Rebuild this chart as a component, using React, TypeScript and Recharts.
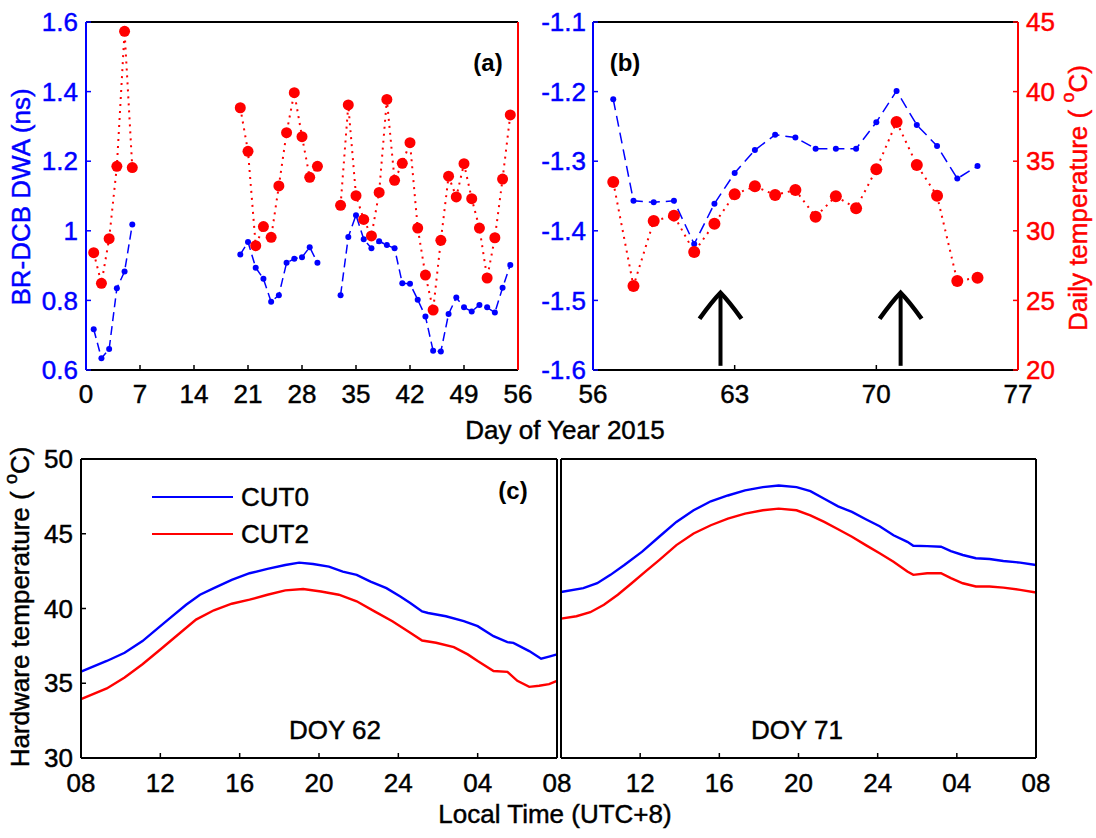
import React from 'react';
import { LineChart, Line, XAxis, YAxis, ReferenceLine, ReferenceDot, Legend } from 'recharts';

const FONT = '"Liberation Sans", Arial, Helvetica, sans-serif';
const BLUE = '#0000ff';
const RED = '#ff0000';
const BLACK = '#000000';
const W = 1096;
const H = 838;

// ---------- Panel (a) ----------
const daysA = [1, 2, 3, 4, 5, 6, 20, 21, 22, 23, 24, 25, 26, 27, 28, 29, 30, 33, 34, 35, 36, 37, 38, 39, 40, 41, 42, 43, 44, 45, 46, 47, 48, 49, 50, 51, 52, 53, 54, 55];
const dwaA = [0.717, 0.634, 0.66, 0.835, 0.883, 1.018, 0.932, 0.968, 0.894, 0.862, 0.796, 0.815, 0.908, 0.92, 0.924, 0.953, 0.908, 0.815, 0.982, 1.045, 0.976, 0.95, 0.97, 0.959, 0.95, 0.849, 0.848, 0.802, 0.754, 0.655, 0.653, 0.761, 0.808, 0.78, 0.768, 0.787, 0.78, 0.765, 0.836, 0.902];
const tempA = [28.43, 26.23, 29.43, 34.63, 44.33, 34.54, 38.84, 35.71, 28.93, 30.3, 29.53, 33.22, 37.05, 39.92, 36.76, 33.84, 34.63, 31.83, 39.04, 32.52, 30.82, 29.63, 32.76, 39.44, 33.63, 34.85, 36.33, 30.2, 26.82, 24.31, 29.32, 33.92, 32.43, 34.82, 32.31, 30.2, 26.61, 29.5, 33.72, 38.32];
const dayTicksA = [0, 7, 14, 21, 28, 35, 42, 49, 56];
const dwaTicksA = [0.6, 0.8, 1.0, 1.2, 1.4, 1.6];
const tempTicks = [20, 25, 30, 35, 40, 45];

// ---------- Panel (b) ----------
const daysB = [57, 58, 59, 60, 61, 62, 63, 64, 65, 66, 67, 68, 69, 70, 71, 72, 73, 74, 75];
const dwaB = [-1.211, -1.357, -1.359, -1.357, -1.419, -1.361, -1.317, -1.284, -1.262, -1.266, -1.282, -1.282, -1.282, -1.244, -1.199, -1.248, -1.278, -1.325, -1.307];
const tempB = [33.51, 26.03, 30.7, 31.09, 28.48, 30.51, 32.62, 33.2, 32.57, 32.93, 31.01, 32.48, 31.62, 34.42, 37.82, 34.73, 32.52, 26.39, 26.63];
const dayTicksB = [56, 63, 70, 77];
const dwaTicksB = [-1.6, -1.5, -1.4, -1.3, -1.2, -1.1];
const arrowDays = [62.3, 71.2];
const arrowBase = -1.594;
const arrowTip = -1.489;

// ---------- Panel (c) ----------
const hourTicks = [0, 4, 8, 12, 16, 20, 24];
const hourLabels = ['08', '12', '16', '20', '24', '04', '08'];
const hwTicks = [30, 35, 40, 45, 50];

const hrs62Cut0 = [0, 1.3, 2.2, 3.1, 4.0, 4.5, 5.3, 6.0, 6.7, 7.6, 8.5, 9.4, 10.3, 11.0, 11.7, 12.5, 13.2, 13.9, 14.6, 15.4, 16.1, 16.6, 17.2, 17.5, 18.4, 19.3, 20.0, 20.8, 21.5, 21.8, 22.6, 23.2, 23.6, 24];
const cut0Doy62 = [35.78, 36.49, 37.04, 37.82, 38.82, 39.37, 40.25, 40.92, 41.36, 41.92, 42.36, 42.65, 42.91, 43.07, 42.98, 42.8, 42.47, 42.25, 41.8, 41.36, 40.8, 40.37, 39.8, 39.7, 39.48, 39.15, 38.82, 38.15, 37.75, 37.7, 37.15, 36.64, 36.78, 36.93];
const hrs62Cut2 = [0, 1.3, 2.2, 3.1, 4.0, 4.9, 5.8, 6.7, 7.6, 8.5, 9.4, 10.3, 11.2, 12.1, 13.0, 13.9, 14.8, 15.7, 16.6, 17.2, 17.9, 18.8, 19.5, 20.0, 20.8, 21.5, 22.0, 22.6, 23.1, 23.6, 24];
const cut2Doy62 = [33.94, 34.65, 35.38, 36.27, 37.26, 38.26, 39.26, 39.88, 40.32, 40.59, 40.92, 41.21, 41.3, 41.14, 40.92, 40.48, 39.81, 39.15, 38.37, 37.86, 37.71, 37.42, 36.93, 36.49, 35.82, 35.76, 35.16, 34.76, 34.83, 34.94, 35.16];

const hrs71Cut0 = [0, 1.13, 1.83, 2.5, 3.2, 4.1, 4.96, 5.83, 6.7, 7.57, 8.43, 9.3, 10.2, 11.0, 11.9, 12.6, 13.3, 14.0, 14.7, 15.4, 16.1, 16.8, 17.5, 17.8, 18.5, 19.2, 19.7, 20.3, 20.96, 21.65, 22.35, 23.2, 24];
const cut0Doy71 = [41.1, 41.36, 41.69, 42.25, 42.91, 43.8, 44.8, 45.79, 46.57, 47.17, 47.56, 47.9, 48.12, 48.23, 48.12, 47.85, 47.34, 46.83, 46.46, 45.97, 45.5, 44.9, 44.46, 44.2, 44.17, 44.13, 43.84, 43.58, 43.36, 43.31, 43.18, 43.07, 42.91];
const hrs71Cut2 = [0, 0.78, 1.48, 2.17, 2.87, 3.57, 4.26, 4.96, 5.83, 6.7, 7.57, 8.43, 9.3, 10.2, 11.0, 11.9, 12.6, 13.3, 14.0, 14.7, 15.4, 16.1, 16.8, 17.5, 17.8, 18.5, 19.2, 19.7, 20.3, 20.96, 21.65, 22.35, 23.2, 24];
const cut2Doy71 = [39.32, 39.48, 39.75, 40.25, 40.92, 41.69, 42.47, 43.24, 44.24, 45.02, 45.57, 46.01, 46.35, 46.57, 46.68, 46.57, 46.23, 45.79, 45.3, 44.8, 44.24, 43.69, 43.13, 42.47, 42.25, 42.36, 42.36, 42.03, 41.69, 41.47, 41.47, 41.4, 41.25, 41.07];

// ---------- data builders ----------
function buildDaily(days: number[], dwa: number[], temp: number[]) {
  const out: { day: number; dwa: number | null; temp: number | null }[] = [];
  days.forEach((d, i) => {
    if (i > 0 && d - days[i - 1] > 1) out.push({ day: (d + days[i - 1]) / 2, dwa: null, temp: null });
    out.push({ day: d, dwa: dwa[i], temp: temp[i] });
  });
  return out;
}
function buildCurve(hrs: number[], vals: number[]) {
  return hrs.map((h, i) => ({ h, v: vals[i] }));
}

const dataA = buildDaily(daysA, dwaA, tempA);
const dataB = buildDaily(daysB, dwaB, tempB);
const c62a = buildCurve(hrs62Cut0, cut0Doy62);
const c62b = buildCurve(hrs62Cut2, cut2Doy62);
const c71a = buildCurve(hrs71Cut0, cut0Doy71);
const c71b = buildCurve(hrs71Cut2, cut2Doy71);

const TS = 26;
const HEAVY = 0.45;
const tickStyle = (fill: string) => ({ fill, stroke: fill, strokeWidth: HEAVY, fontSize: TS, fontFamily: FONT });
const axLine = (c: string) => ({ stroke: c, strokeWidth: 2 });
const tkLine = (c: string) => ({ stroke: c, strokeWidth: 1.5 });
const fmtNum = (v: number) => String(Math.round(v * 10) / 10);

const Chevron = (props: any) => {
  const { cx, cy } = props;
  return (
    <path d={`M${cx - 21},${cy + 26} Q${cx - 8},${cy + 8} ${cx},${cy} Q${cx + 8},${cy + 8} ${cx + 21},${cy + 26}`} stroke={BLACK} strokeWidth={4.5} fill="none" />
  );
};

const abs: React.CSSProperties = { position: 'absolute', left: 0, top: 0 };

function PanelA() {
  return (
    <div style={abs}>
      <LineChart width={W} height={H} data={dataA} margin={{ top: 21, left: 26, right: 568, bottom: 438 }}>
        <XAxis xAxisId="b" dataKey="day" type="number" domain={[0, 56]} ticks={dayTicksA} interval={0} height={30}
          tick={tickStyle(BLACK)} tickSize={-5} tickMargin={20} axisLine={axLine(BLACK)} tickLine={tkLine(BLACK)} />
        <XAxis xAxisId="t" orientation="top" dataKey="day" type="number" domain={[0, 56]} ticks={dayTicksA} interval={0} height={1}
          tick={false} tickSize={-5} axisLine={axLine(BLACK)} tickLine={tkLine(BLACK)} />
        <YAxis yAxisId="l" type="number" domain={[0.6, 1.6]} ticks={dwaTicksA} interval={0} width={60} tickFormatter={fmtNum}
          tick={tickStyle(BLUE)} tickSize={-5} tickMargin={13} axisLine={axLine(BLUE)} tickLine={tkLine(BLUE)} />
        <YAxis yAxisId="r" orientation="right" type="number" domain={[20, 45]} ticks={tempTicks} interval={0} width={10}
          tick={false} tickSize={-5} axisLine={axLine(RED)} tickLine={tkLine(RED)} />
        <Line xAxisId="b" yAxisId="l" dataKey="dwa" stroke={BLUE} strokeWidth={1.5} strokeDasharray="9 5"
          dot={{ r: 3, fill: BLUE, stroke: BLUE, strokeWidth: 0 }} isAnimationActive={false} connectNulls={false} />
        <Line xAxisId="b" yAxisId="r" dataKey="temp" stroke={RED} strokeWidth={2} strokeDasharray="2 5"
          dot={{ r: 5.5, fill: RED, stroke: RED, strokeWidth: 0 }} isAnimationActive={false} connectNulls={false} />
      </LineChart>
    </div>
  );
}

function PanelB() {
  return (
    <div style={abs}>
      <LineChart width={W} height={H} data={dataB} margin={{ top: 21, left: 533, right: 8, bottom: 438 }}>
        <XAxis xAxisId="b" dataKey="day" type="number" domain={[56, 77]} ticks={dayTicksB} interval={0} height={30}
          tick={tickStyle(BLACK)} tickSize={-5} tickMargin={20} axisLine={axLine(BLACK)} tickLine={tkLine(BLACK)} />
        <XAxis xAxisId="t" orientation="top" dataKey="day" type="number" domain={[56, 77]} ticks={dayTicksB} interval={0} height={1}
          tick={false} tickSize={-5} axisLine={axLine(BLACK)} tickLine={tkLine(BLACK)} />
        <YAxis yAxisId="l" type="number" domain={[-1.6, -1.1]} ticks={dwaTicksB} interval={0} width={60} tickFormatter={fmtNum}
          tick={tickStyle(BLUE)} tickSize={-5} tickMargin={12} axisLine={axLine(BLUE)} tickLine={tkLine(BLUE)} />
        <YAxis yAxisId="r" orientation="right" type="number" domain={[20, 45]} ticks={tempTicks} interval={0} width={70}
          tick={tickStyle(RED)} tickSize={-5} tickMargin={13} axisLine={axLine(RED)} tickLine={tkLine(RED)} />
        <Line xAxisId="b" yAxisId="l" dataKey="dwa" stroke={BLUE} strokeWidth={1.5} strokeDasharray="11 6"
          dot={{ r: 3, fill: BLUE, stroke: BLUE, strokeWidth: 0 }} isAnimationActive={false} />
        <Line xAxisId="b" yAxisId="r" dataKey="temp" stroke={RED} strokeWidth={2} strokeDasharray="2 5"
          dot={{ r: 6, fill: RED, stroke: RED, strokeWidth: 0 }} isAnimationActive={false} />
        {arrowDays.map((d) => (
          <ReferenceLine key={'s' + d} xAxisId="b" yAxisId="l" segment={[{ x: d, y: arrowBase }, { x: d, y: arrowTip }]}
            stroke={BLACK} strokeWidth={4} />
        ))}
        {arrowDays.map((d) => (
          <ReferenceDot key={'h' + d} xAxisId="b" yAxisId="l" x={d} y={arrowTip} shape={Chevron} />
        ))}
      </LineChart>
    </div>
  );
}

const LegendContent = () => (
  <svg width={200} height={80} style={{ overflow: 'visible' }}>
    <line x1={12} x2={93} y1={22} y2={22} stroke={BLUE} strokeWidth={2} />
    <text x={101} y={22} dominantBaseline="central" fontFamily={FONT} fontSize={TS} fill={BLACK} stroke={BLACK} strokeWidth={HEAVY}>CUT0</text>
    <line x1={12} x2={93} y1={59} y2={59} stroke={RED} strokeWidth={2} />
    <text x={101} y={59} dominantBaseline="central" fontFamily={FONT} fontSize={TS} fill={BLACK} stroke={BLACK} strokeWidth={HEAVY}>CUT2</text>
  </svg>
);

function PanelC({ left, cut0, cut2 }: { left: boolean; cut0: any[]; cut2: any[] }) {
  const margin = left
    ? { top: 458, left: 21, right: 538, bottom: 50 }
    : { top: 458, left: 560, right: 10, bottom: 50 };
  const fmtHour = (v: number) => {
    const i = hourTicks.indexOf(v);
    if (!left && i === 0) return '';
    return i >= 0 ? hourLabels[i] : '';
  };
  return (
    <div style={abs}>
      <LineChart width={W} height={H} margin={margin}>
        <XAxis xAxisId="b" dataKey="h" type="number" domain={[0, 24]} ticks={hourTicks} interval={0} height={30}
          tickFormatter={fmtHour} tick={tickStyle(BLACK)} tickSize={-5} tickMargin={21} axisLine={axLine(BLACK)} tickLine={tkLine(BLACK)} />
        <XAxis xAxisId="t" orientation="top" dataKey="h" type="number" domain={[0, 24]} ticks={hourTicks} interval={0} height={1}
          tick={false} tickSize={-5} axisLine={axLine(BLACK)} tickLine={tkLine(BLACK)} />
        <YAxis yAxisId="l" type="number" domain={[30, 50]} ticks={hwTicks} interval={0} width={left ? 60 : 1}
          tick={left ? tickStyle(BLACK) : false} tickSize={-5} tickMargin={13} axisLine={axLine(BLACK)} tickLine={tkLine(BLACK)} />
        <YAxis yAxisId="r" orientation="right" type="number" domain={[30, 50]} ticks={hwTicks} interval={0} width={left ? 1 : 50}
          tick={left ? false : tickStyle(BLACK)} tickSize={-5} tickMargin={14} axisLine={axLine(BLACK)} tickLine={tkLine(BLACK)} />
        <Line xAxisId="b" yAxisId="l" data={cut0} dataKey="v" name="CUT0" stroke={BLUE} strokeWidth={2.4} dot={false} isAnimationActive={false} />
        <Line xAxisId="b" yAxisId="l" data={cut2} dataKey="v" name="CUT2" stroke={RED} strokeWidth={2.4} dot={false} isAnimationActive={false} />
        {left && (
          <Legend layout="vertical" align="center" verticalAlign="middle" content={LegendContent}
            wrapperStyle={{ position: 'absolute', left: 140, top: 475, width: 200, height: 80 }} />
        )}
      </LineChart>
    </div>
  );
}

function Titles() {
  const t = { fontFamily: FONT, fontSize: TS, strokeWidth: HEAVY };
  const b = { fontFamily: FONT, fontSize: 24, fontWeight: 700 as const };
  return (
    <svg width={W} height={H} style={{ ...abs, pointerEvents: 'none' }}>
      <text {...t} fill={BLUE} stroke={BLUE} textAnchor="middle" dominantBaseline="central" transform="translate(21,197) rotate(-90)">BR-DCB DWA (ns)</text>
      <text {...t} fill={RED} stroke={RED} textAnchor="middle" dominantBaseline="central" transform="translate(1078,198) rotate(-90)">
        Daily temperature ( <tspan fontSize={18} dy={-10}>o</tspan><tspan dy={10}>C)</tspan>
      </text>
      <text {...t} fill={BLACK} stroke={BLACK} textAnchor="middle" dominantBaseline="central" transform="translate(20,607) rotate(-90)">
        Hardware temperature ( <tspan fontSize={18} dy={-9}>o</tspan><tspan dy={9}>C)</tspan>
      </text>
      <text {...t} fill={BLACK} stroke={BLACK} textAnchor="middle" x={565} y={439}>Day of Year 2015</text>
      <text {...t} fill={BLACK} stroke={BLACK} textAnchor="middle" x={555} y={823}>Local Time (UTC+8)</text>
      <text {...b} fill={BLACK} textAnchor="middle" dominantBaseline="central" x={488} y={62}>(a)</text>
      <text {...b} fill={BLACK} textAnchor="middle" dominantBaseline="central" x={625} y={62}>(b)</text>
      <text {...b} fill={BLACK} textAnchor="middle" dominantBaseline="central" x={513} y={490}>(c)</text>
      <text {...t} fill={BLACK} stroke={BLACK} textAnchor="middle" dominantBaseline="central" x={335} y={730}>DOY 62</text>
      <text {...t} fill={BLACK} stroke={BLACK} textAnchor="middle" dominantBaseline="central" x={797} y={730}>DOY 71</text>
    </svg>
  );
}

export default function App() {
  return (
    <div style={{ position: 'absolute', left: 0, top: 0, width: W, height: H, background: '#fff', overflow: 'hidden' }}>
      <PanelA />
      <PanelB />
      <PanelC left={true} cut0={c62a} cut2={c62b} />
      <PanelC left={false} cut0={c71a} cut2={c71b} />
      <Titles />
    </div>
  );
}
